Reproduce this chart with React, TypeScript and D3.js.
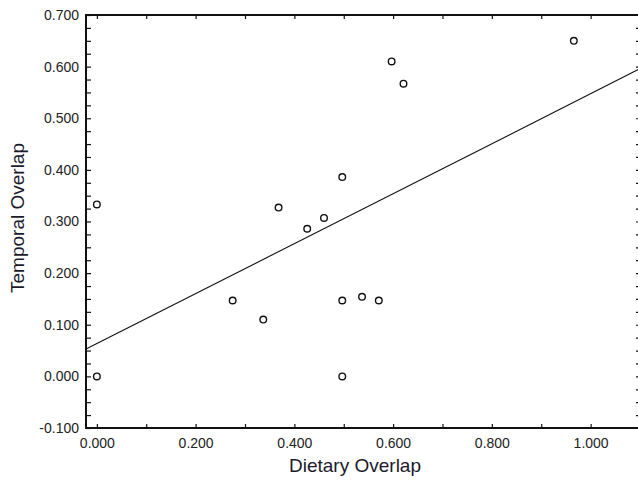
import React, { useRef, useEffect } from 'react'
import { select, scaleLinear, axisLeft, axisBottom, axisTop, axisRight, format, range, line } from 'd3'

// dietary overlap (x) vs temporal overlap (y)
const dietary = [0.0, 0.0, 0.275, 0.337, 0.368, 0.426, 0.46, 0.497, 0.497, 0.497, 0.537, 0.571, 0.597, 0.621, 0.966]
const temporal = [0.333, 0.0, 0.147, 0.11, 0.327, 0.286, 0.307, 0.386, 0.147, 0.0, 0.154, 0.147, 0.61, 0.567, 0.65]

const xLabelTicks = [0, 0.2, 0.4, 0.6, 0.8, 1.0]
const yLabelTicks = [-0.1, 0, 0.1, 0.2, 0.3, 0.4, 0.5, 0.6, 0.7]
const xTitle = 'Dietary Overlap'
const yTitle = 'Temporal Overlap'

const W = 638
const H = 483
const FONT = '"Liberation Sans", Arial, sans-serif'

function ScatterChart() {
    const svgRef = useRef<SVGSVGElement>(null)

    useEffect(() => {
        const svg = select(svgRef.current)
        svg.selectAll('*').remove()

        const x = scaleLinear().domain([-0.022, 1.1]).range([86, 640])
        const y = scaleLinear().domain([-0.1, 0.7]).range([428, 15])
        // plain hyphen for negatives, like the original
        const fmt = (v: number) => format('.3f')(v).replace('\u2212', '-')

        const yMinor = range(-0.1, 0.7001, 0.025)
        const xMinor = range(0, 1.1001, 0.1)
        const isLabel = (v: number, list: number[]) => list.some(l => Math.abs(l - v) < 1e-6)

        // left axis: ticks every 0.025, labels every 0.1
        const left = svg.append('g').attr('transform', `translate(${x.range()[0]},0)`)
            .call(axisLeft(y).tickValues(yMinor).tickSizeInner(-5).tickSizeOuter(0).tickPadding(7)
                .tickFormat(v => isLabel(+v, yLabelTicks) ? fmt(+v) : ''))
        const right = svg.append('g').attr('transform', `translate(${x.range()[1]},0)`)
            .call(axisRight(y).tickValues(yMinor).tickSizeInner(-4).tickSizeOuter(0).tickFormat(() => ''))
        const bottom = svg.append('g').attr('transform', `translate(0,${y.range()[0]})`)
            .call(axisBottom(x).tickValues(xMinor).tickSizeInner(-4).tickSizeOuter(0).tickPadding(10)
                .tickFormat(v => isLabel(+v, xLabelTicks) ? fmt(+v) : ''))
        const top = svg.append('g').attr('transform', `translate(0,${y.range()[1]})`)
            .call(axisTop(x).tickValues(xMinor).tickSizeInner(-4).tickSizeOuter(0).tickFormat(() => ''))

        for (const g of [left, right, bottom, top]) {
            g.select('.domain').remove()
            g.selectAll('line').attr('stroke', '#111').attr('stroke-width', 1.2)
            g.selectAll('text').attr('fill', '#222').style('font-family', FONT).style('font-size', '14px')
        }

        // frame
        svg.append('rect')
            .attr('x', x.range()[0]).attr('y', y.range()[1])
            .attr('width', x.range()[1] - x.range()[0]).attr('height', y.range()[0] - y.range()[1])
            .attr('fill', 'none').attr('stroke', '#111').attr('stroke-width', 2)

        // least squares fit from the points
        const n = dietary.length
        const mx = dietary.reduce((a, b) => a + b, 0) / n
        const my = temporal.reduce((a, b) => a + b, 0) / n
        let sxy = 0, sxx = 0
        dietary.forEach((d, i) => { sxy += (d - mx) * (temporal[i] - my); sxx += (d - mx) * (d - mx) })
        const slope = sxy / sxx
        const icpt = my - slope * mx
        const ends = x.domain()
        svg.append('path')
            .datum(ends)
            .attr('d', line<number>().x(d => x(d)).y(d => y(icpt + slope * d)))
            .attr('fill', 'none').attr('stroke', '#111').attr('stroke-width', 1.1)

        svg.append('g').selectAll('circle')
            .data(dietary)
            .join('circle')
            .attr('cx', d => x(d))
            .attr('cy', (d, i) => y(temporal[i]))
            .attr('r', 3.3)
            .attr('fill', 'white').attr('stroke', '#111').attr('stroke-width', 1.4)

        svg.append('text')
            .attr('x', 355).attr('y', 472)
            .attr('text-anchor', 'middle')
            .style('font-family', FONT).style('font-size', '19px').attr('fill', '#1a1a2a')
            .text(xTitle)
        svg.append('text')
            .attr('transform', 'translate(24,218) rotate(-90)')
            .attr('text-anchor', 'middle')
            .style('font-family', FONT).style('font-size', '19px').attr('fill', '#1a1a2a')
            .text(yTitle)
    }, [])

    return <svg ref={svgRef} width={W} height={H} style={{ position: 'absolute', left: 0, top: 0, background: 'white' }} />
}

export default function App() {
    return <ScatterChart />
}
